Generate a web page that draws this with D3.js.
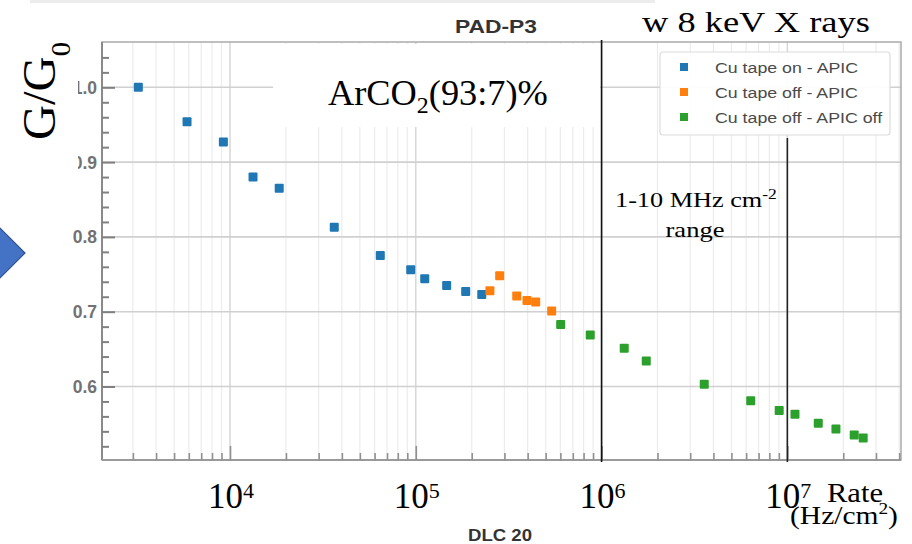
<!DOCTYPE html>
<html><head><meta charset="utf-8">
<script src="https://cdn.jsdelivr.net/npm/d3@7"></script>
<style>html,body{margin:0;padding:0;background:#fff;}svg{display:block;}</style>
</head><body>
<svg id="c" width="912" height="544"></svg>
<script>
// ---- data ----
const seriesNames = ["Cu tape on - APIC", "Cu tape off - APIC", "Cu tape off - APIC off"];
const seriesColors = ["#1f77b4", "#ff7f0e", "#2ca02c"];
const blueX = [3210, 5870, 9210, 13300, 18400, 36400, 64400, 93900, 111700, 146600, 185600, 226500];
const blueY = [1.000, 0.954, 0.927, 0.880, 0.865, 0.813, 0.775, 0.756, 0.744, 0.735, 0.727, 0.723];
const orangeX = [250600, 282800, 349400, 396700, 441900, 538700];
const orangeY = [0.728, 0.748, 0.721, 0.715, 0.713, 0.701];
const greenX = [602300, 869000, 1324000, 1740000, 3570000, 6350000, 9040000, 10990000, 14670000, 18260000, 22900000, 25600000];
const greenY = [0.683, 0.669, 0.651, 0.634, 0.603, 0.581, 0.568, 0.563, 0.551, 0.543, 0.535, 0.531];
const yTickValues = [0.6, 0.7, 0.8, 0.9, 1.0];
const yTickLabels = ["0.6", "0.7", "0.8", "0.9", "1.0"];
const xDecades = [1e4, 1e5, 1e6, 1e7];
const xDecadeExps = ["4", "5", "6", "7"];
const rangeLines = [1e6, 1e7];

const SERIF = "'Liberation Serif','Times New Roman',serif";
const SANS = "'Liberation Sans',Arial,sans-serif";

const svg = d3.select("#c");
svg.append("rect").attr("width", 912).attr("height", 544).attr("fill", "#fff");
// faint top strip
svg.append("rect").attr("x", 30).attr("y", 0).attr("width", 625).attr("height", 3).attr("fill", "#ececec");

const L = 102, R = 901, T = 42, B = 460;
const x = d3.scaleLog().domain([2046, 4.09e7]).range([L, R]);
const y = d3.scaleLinear().domain([0.5017, 1.0606]).range([B, T]);

// minor x positions
const xMinor = [];
for (let e = 3; e <= 7; e++) for (let m = 2; m <= 9; m++) { const v = m * Math.pow(10, e); if (v > 2046 && v < 4.09e7) xMinor.push(v); }
const yMinor = d3.range(0.52, 1.06, 0.02).filter(v => Math.abs(Math.round(v * 10) - v * 10) > 0.05);

const grid = svg.append("g");
grid.selectAll(".vm").data(xMinor).join("line")
  .attr("x1", d => x(d)).attr("x2", d => x(d)).attr("y1", T).attr("y2", B)
  .attr("stroke", "#ececec").attr("stroke-width", 1.2);
grid.selectAll(".vM").data(xDecades).join("line")
  .attr("x1", d => x(d)).attr("x2", d => x(d)).attr("y1", T).attr("y2", B)
  .attr("stroke", "#d4d4d4").attr("stroke-width", 1.4);
grid.selectAll(".h").data(yTickValues).join("line")
  .attr("x1", L).attr("x2", R).attr("y1", d => y(d)).attr("y2", d => y(d))
  .attr("stroke", "#d0d0d0").attr("stroke-width", 1.6);

// white box behind gas label (hides grid)
svg.append("rect").attr("x", 273).attr("y", 44).attr("width", 327).attr("height", 83).attr("fill", "#fff");

// frame
svg.append("rect").attr("x", L).attr("y", T).attr("width", R - L).attr("height", B - T)
  .attr("fill", "none").attr("stroke", "#b0b0b0").attr("stroke-width", 1.6);
svg.append("line").attr("x1", L).attr("x2", L).attr("y1", T).attr("y2", B).attr("stroke", "#8a8a8a").attr("stroke-width", 2);
svg.append("line").attr("x1", L).attr("x2", R).attr("y1", B).attr("y2", B).attr("stroke", "#9a9a9a").attr("stroke-width", 2);

// axes via d3
const yAxisMajor = d3.axisRight(y).tickValues(yTickValues).tickSize(13).tickFormat("");
const yAxisMinor = d3.axisRight(y).tickValues(yMinor).tickSize(7).tickFormat("");
[yAxisMajor, yAxisMinor].forEach(a => {
  const g = svg.append("g").attr("transform", `translate(${L},0)`).call(a);
  g.select(".domain").remove();
  g.selectAll("line").attr("stroke", "#808080").attr("stroke-width", 2);
});
const xAxisMajor = d3.axisTop(x).tickValues(xDecades).tickSize(14).tickFormat("");
const xAxisMinor = d3.axisTop(x).tickValues(xMinor).tickSize(7).tickFormat("");
[xAxisMajor, xAxisMinor].forEach(a => {
  const g = svg.append("g").attr("transform", `translate(0,${B})`).call(a);
  g.select(".domain").remove();
  g.selectAll("line").attr("stroke", "#909090").attr("stroke-width", 1.6);
});

// y tick labels
svg.selectAll(".yl").data(yTickValues).join("text")
  .attr("x", 97).attr("y", d => y(d) + 6.5).attr("text-anchor", "end")
  .attr("font-family", SANS).attr("font-size", 17.5).attr("font-weight", "bold").attr("fill", "#727272")
  .text((d, i) => yTickLabels[i]);

// data
const series = [[blueX, blueY], [orangeX, orangeY], [greenX, greenY]];
const ms = 9;
series.forEach((s, k) => {
  svg.append("g").selectAll("rect").data(s[0].map((v, i) => [v, s[1][i]])).join("rect")
    .attr("x", d => x(d[0]) - ms / 2).attr("y", d => y(d[1]) - ms / 2)
    .attr("width", ms).attr("height", ms).attr("rx", 1)
    .attr("fill", seriesColors[k]);
});

// legend
const lg = svg.append("g");
lg.append("rect").attr("x", 660).attr("y", 52).attr("width", 230).attr("height", 83).attr("rx", 3)
  .attr("fill", "#fff").attr("fill-opacity", 0.92).attr("stroke", "#dcdcdc").attr("stroke-width", 1.2);
const legTexts = [];
seriesNames.forEach((n, i) => {
  const yy = 67 + i * 25;
  lg.append("rect").attr("x", 680).attr("y", yy - 4).attr("width", 8).attr("height", 8).attr("fill", seriesColors[i]);
  legTexts.push(lg.append("text").attr("x", 0).attr("y", 0)
    .attr("font-family", SANS).attr("font-size", 15.5).attr("fill", "#4a4a4a").text(n)
    .attr("data-y", yy));
});
{
  const wMax = d3.max(legTexts, t => t.node().getBBox().width);
  const sx = 168 / wMax;
  legTexts.forEach(t => t.attr("transform", `translate(715,${+t.attr("data-y") + 5.5}) scale(${sx},1)`));
}

// black range lines
svg.append("line").attr("x1", x(rangeLines[0])).attr("x2", x(rangeLines[0])).attr("y1", 40).attr("y2", 462)
  .attr("stroke", "#111").attr("stroke-width", 1.6);
svg.append("line").attr("x1", x(rangeLines[1])).attr("x2", x(rangeLines[1])).attr("y1", 138).attr("y2", 462)
  .attr("stroke", "#222").attr("stroke-width", 1.6);

// text helper: place text with left x, baseline y, scaled to width w
function placeText(opts, build) {
  const g = svg.append("g");
  const t = g.append("text").attr("x", 0).attr("y", 0)
    .attr("font-family", opts.family).attr("font-size", opts.size)
    .attr("font-weight", opts.weight || "normal").attr("fill", opts.fill || "#000");
  build(t);
  const bb = t.node().getBBox();
  const sx = opts.w ? opts.w / bb.width : 1;
  let xx = opts.x;
  if (opts.cx !== undefined) xx = opts.cx - (opts.w || bb.width) / 2;
  const rot = opts.rotate ? ` rotate(${opts.rotate})` : "";
  g.attr("transform", `translate(${xx},${opts.y})${rot} scale(${sx},1) translate(${-bb.x},0)`);
  return g;
}

// titles
placeText({ cx: 496, y: 33, size: 18, weight: "bold", family: SANS, fill: "#333", w: 82 }, t => t.text("PAD-P3"));
placeText({ cx: 500, y: 541, size: 17, weight: "bold", family: SANS, fill: "#333", w: 64 }, t => t.text("DLC 20"));

// gas label
placeText({ x: 328, y: 105, size: 35, family: SERIF, w: 220 }, t => {
  t.append("tspan").text("ArCO");
  t.append("tspan").attr("font-size", 23).attr("dy", 8).text("2");
  t.append("tspan").attr("dy", -8).text("(93:7)%");
});
// X ray label
placeText({ x: 642, y: 32, size: 30, family: SERIF, w: 228 }, t => t.text("w 8 keV X rays"));
// range label
placeText({ x: 615, y: 207, size: 21, family: SERIF, w: 162 }, t => {
  t.append("tspan").text("1-10 MHz cm");
  t.append("tspan").attr("font-size", 14).attr("dy", -8).text("-2");
});
placeText({ cx: 695, y: 237, size: 21, family: SERIF, w: 59 }, t => t.text("range"));

// decade labels
xDecades.forEach((d, i) => {
  placeText({ cx: x(d) + 1, y: 508, size: 35, family: SERIF }, t => {
    t.append("tspan").text("10");
    t.append("tspan").attr("font-size", 22).attr("dy", -10).text(xDecadeExps[i]);
  });
});
// axis title
placeText({ x: 827, y: 502, size: 27, family: SERIF, w: 56 }, t => t.text("Rate"));
placeText({ x: 790, y: 524, size: 26, family: SERIF, w: 108 }, t => {
  t.append("tspan").text("(Hz/cm");
  t.append("tspan").attr("font-size", 17).attr("dy", -10).text("2");
  t.append("tspan").attr("dy", 10).text(")");
});

// G/G0 label with white background
svg.append("rect").attr("x", 0).attr("y", 34).attr("width", 78).attr("height", 138).attr("fill", "#fff");
placeText({ x: 55, y: 140, size: 46, family: SERIF, rotate: -90, w: 98 }, t => {
  t.append("tspan").text("G/G");
  t.append("tspan").attr("font-size", 27).attr("dy", 15).text("0");
});

// blue arrow shape at left edge
svg.append("path").attr("d", "M-30,253 L-2,226 L25,253 L-2,280 Z")
  .attr("fill", "#4472c4").attr("stroke", "#2f528f").attr("stroke-width", 1.2);
</script>
</body></html>
